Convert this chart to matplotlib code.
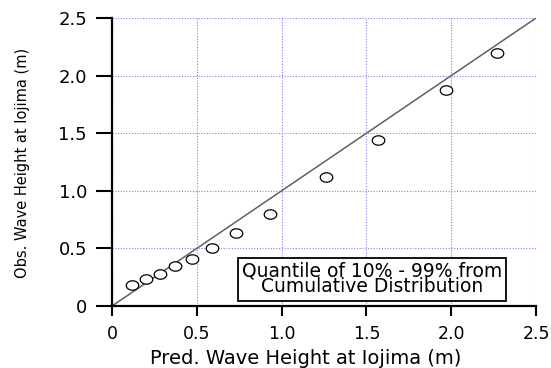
import matplotlib
matplotlib.use("Agg")
import matplotlib.pyplot as plt
from matplotlib.path import Path
import numpy as np

plt.rcParams['font.family'] = ['DejaVu Sans']

# quantiles 10% - 99%
pred = [0.12, 0.20, 0.28, 0.37, 0.47, 0.59, 0.73, 0.93, 1.26, 1.57, 1.97, 2.27]
obs = [0.18, 0.23, 0.28, 0.35, 0.41, 0.50, 0.63, 0.80, 1.12, 1.44, 1.875, 2.20]
xticks = [0, 0.5, 1.0, 1.5, 2.0, 2.5]
xticklabels = ['0', '0.5', '1.0', '1.5', '2.0', '2.5']
yticks = [0, 0.5, 1.0, 1.5, 2.0, 2.5]
yticklabels = ['0', '0.5', '1.0', '1.5', '2.0', '2.5']

# slightly flattened circle marker
t = np.linspace(0, 2*np.pi, 60)
ellipse = Path(np.column_stack([np.cos(t), 0.75*np.sin(t)]), closed=True)

fig = plt.figure(figsize=(5.51, 3.68), dpi=100, facecolor='white')
ax = fig.add_axes([0.2033, 0.1685, 0.7695, 0.7825])

ax.set_xlim(0, 2.5)
ax.set_ylim(0, 2.5)
ax.grid(True, color='#8080f0', linestyle=(0, (1, 1.5)), linewidth=0.8)
ax.set_axisbelow(True)

ax.plot([0, 2.5], [0, 2.5], color='#606060', linewidth=1.1, zorder=2)
ax.plot(pred, obs, linestyle='none', marker=ellipse, markersize=9,
	markerfacecolor='white', markeredgecolor='black', markeredgewidth=0.9, zorder=3)

ax.spines['top'].set_visible(False)
ax.spines['right'].set_visible(False)
ax.spines['left'].set_linewidth(1.6)
ax.spines['bottom'].set_linewidth(1.6)

ax.set_xticks(xticks)
ax.set_xticklabels(xticklabels)
ax.set_yticks(yticks)
ax.set_yticklabels(yticklabels)
ax.tick_params(axis='x', direction='out', length=7.5, width=1.5, labelsize=12.5, pad=6)
ax.tick_params(axis='y', direction='out', length=11.5, width=1.5, labelsize=13, pad=6.5)

ax.set_xlabel('Pred. Wave Height at Iojima (m)', fontsize=14)
ax.set_ylabel('Obs. Wave Height at Iojima (m)', fontsize=10.5)
ax.xaxis.set_label_coords(0.4575, -0.148)
ax.yaxis.set_label_coords(-0.194, 0.497)

ax.text(1.533, 0.234, 'Quantile of 10% - 99% from\nCumulative Distribution',
	ha='center', va='center', fontsize=13.5, linespacing=0.78,
	bbox=dict(boxstyle='square,pad=0.22', fc='white', ec='black', lw=1.3), zorder=4)

fig.savefig('out.png', dpi=100)
